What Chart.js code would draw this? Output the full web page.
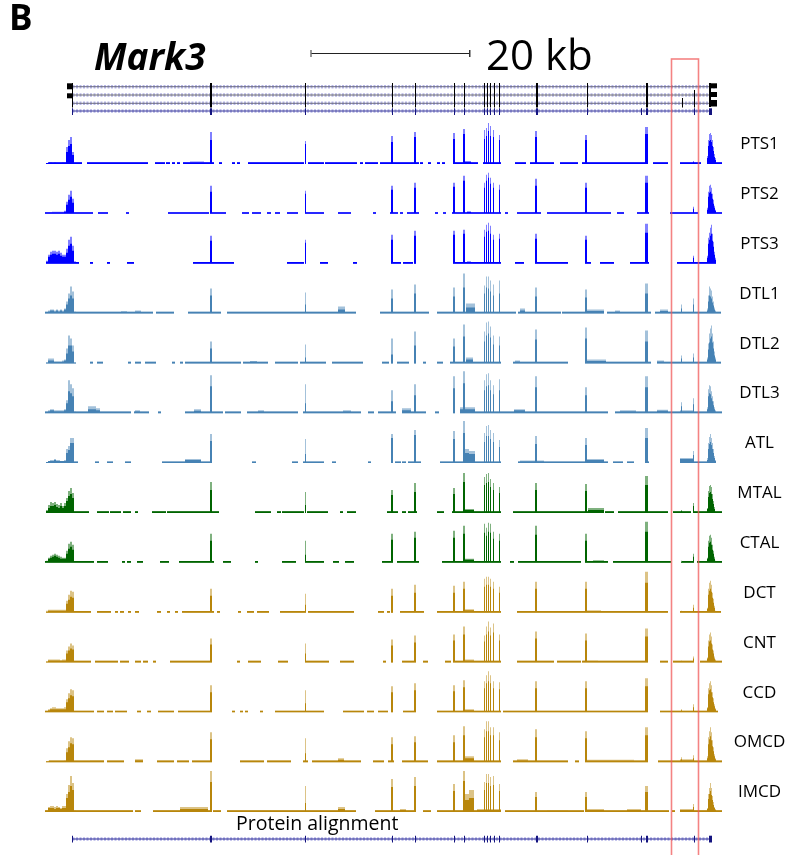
<!DOCTYPE html>
<html><head><meta charset="utf-8">
<script src="https://cdn.jsdelivr.net/npm/chart.js@4.4.1/dist/chart.umd.min.js"></script>
<style>
html,body{margin:0;padding:0;background:#fff;}
#wrap{position:relative;width:791px;height:855px;overflow:hidden;font-family:"Open Sans",sans-serif;background:#fff;}
canvas{position:absolute;left:0;top:0;}
.lbl{position:absolute;line-height:1;white-space:nowrap;color:#000;}
.trk{position:absolute;line-height:1;white-space:nowrap;color:#000;font-size:17px;transform:translateX(-50%);}
</style></head><body>
<div id="wrap"><canvas id="c" width="791" height="855"></canvas>
<div class="lbl" style="left:9px;top:-1px;font-size:35px;font-weight:700;">B</div>
<div class="lbl" style="left:94px;top:37px;font-size:37px;font-weight:700;font-style:italic;">Mark3</div>
<div class="lbl" style="left:486px;top:33px;font-size:42px;">20 kb</div>
<div class="lbl" style="left:236px;top:813px;font-size:19.5px;">Protein alignment</div>
</div>
<script>
// ---------------- DATA (genomic bins, ~126 bp per bin) ----------------
const trackNames = ['PTS1','PTS2','PTS3','DTL1','DTL2','DTL3','ATL','MTAL','CTAL','DCT','CNT','CCD','OMCD','IMCD'];
const trackGroup = ['PTS','PTS','PTS','TL','TL','TL','TL','TAL','TAL','DIST','DIST','DIST','DIST','DIST'];

// internal exon peaks (bin, width in bins)
const exonBins  = [210,305,391,414,453,463,484,486,488,490,493,499,535,585,645,681,693];
const exonWidth = [2,1,2,2,2,2,1,1,1,1,1,1,2,2,3,1,1];

// coverage (max) at exon peaks, per track
const exonMax = [
 [32,23,28,32,31,35, 34,36,41,38,34,29, 33,29,37,0,3],
 [28,23,28,31,31,38, 31,39,41,36,31,29, 35,31,38,0,7],
 [28,24,29,33,33,34, 34,39,41,38,29,30, 30,28,40,0,8],
 [25,21,24,29,26,40, 28,37,37,33,29,33, 26,24,30,9,15],
 [22,19,25,32,25,39, 32,41,42,37,28,27, 34,36,33,8,10],
 [38,29,23,29,37,42, 33,39,40,33,28,34, 37,26,37,11,15],
 [29,24,29,33,32,42, 30,37,38,33,30,23, 27,25,35,5,12],
 [31,21,23,30,25,40, 36,39,40,34,30,26, 30,29,37,3,10],
 [29,22,29,31,32,37, 39,35,40,39,31,29, 37,29,41,2,9],
 [24,19,24,28,27,31, 34,36,36,34,31,26, 31,31,41,2,8],
 [24,19,23,27,28,36, 27,36,41,35,39,28, 31,29,34,2,6],
 [27,22,26,29,27,32, 31,37,41,37,31,30, 31,31,34,3,8],
 [30,24,25,26,27,36, 33,41,41,35,35,30, 33,31,35,5,7],
 [41,26,33,35,28,41, 30,38,38,35,36,28, 20,20,26,3,8]
];
// coverage (mean) at exon peaks, per track
const exonMean = [
 [24,20,22,27,25,30, 25,28,33,28,27,24, 27,24,30,0,2],
 [22,20,24,26,27,33, 26,33,36,30,26,24, 28,26,31,0,5],
 [23,21,24,28,29,30, 27,32,33,30,24,25, 25,24,31,0,6],
 [18,9,15,20,17,26, 20,26,25,22,18,20, 17,16,20,5,9],
 [15,6,9,18,17,27, 22,28,30,26,19,18, 24,25,22,5,6],
 [27,10,12,18,25,30, 23,27,28,23,19,23, 26,18,26,7,9],
 [22,9,25,28,24,30, 21,27,27,24,21,16, 19,18,25,3,8],
 [23,8,18,21,19,31, 28,30,31,26,23,20, 23,22,28,2,7],
 [22,8,23,25,25,29, 30,27,31,30,24,22, 28,22,31,1,6],
 [17,8,17,20,20,24, 26,28,28,26,24,20, 24,24,30,1,5],
 [18,9,17,20,22,28, 21,28,31,27,30,22, 24,22,26,1,4],
 [20,9,20,22,21,25, 24,29,31,29,24,23, 24,24,26,2,5],
 [23,9,18,20,20,27, 25,31,31,27,27,22, 25,24,27,3,4],
 [30,9,25,26,21,31, 22,29,29,26,27,21, 15,15,20,2,5]
];

// first exon / 5' region, 2-bin steps
const firstBins = [46,48,50,52,54,56,58,60,62,64,66,68,70,72,74];
const firstMax = [
 [1,2,2,1.5,2,1.5,1.5,1.5,2,2,17,24,27,12,1],
 [0.5,1,1.5,2,2,2,2,2,2,3,12,19,23,15,1],
 [3,9,12,13,13,12,13,11,9,9,15,24,27,18,2],
 [1,3,4,4,3,4,3,4,3,5,12,20,27,22,2],
 [1,5,5,5,2,2,2,2,3,4,15,28,25,18,1],
 [1,3,4,4,3,3,3,3,3,4,13,33,29,25,2],
 [1,2,3,3,4,3,3,2,2,3,14,17,25,25,1],
 [3,8,11,10,11,9,8,10,7,10,15,22,25,20,1],
 [2,5,7,8,9,8,7,6,5,5,12,19,21,18,1],
 [2,3,3,3,3,3,3,3,3,3,12,18,22,21,1],
 [1,3,3,3,3,3,3,2,3,3,12,16,19,17,1],
 [1,3,4,5,5,4,4,4,4,5,13,19,23,22,1],
 [1,1.5,1.5,1.5,1.5,1.5,1.5,1.5,1.5,2,14,21,25,24,1],
 [2,5,6,6,5,6,5,4,6,6,18,27,36,29,2]
];
const firstMean = [
 [1,1.5,1.5,1,1.5,1,1,1,1.5,1.5,12,18,20,9,1],
 [0.5,1,1,1.5,1.5,1.5,1.5,1.5,1.5,2,9,14,17,11,1],
 [2,7,9,10,10,9,10,8,7,7,11,18,20,13,2],
 [1,2,3,3,2,3,2,3,2,4,9,15,18,15,1],
 [1,3,3,3,1,1,1,1,2,3,10,18,18,12,1],
 [1,2,3,3,2,2,2,2,2,3,10,22,20,17,1],
 [1,2,2,2,3,2,2,2,2,2,10,13,20,20,1],
 [2,5,7,7,8,6,5,7,5,7,12,17,19,15,1],
 [1,4,5,6,7,6,5,4,4,4,9,14,16,13,1],
 [1,2,2,2,2,2,2,2,2,2,9,13,16,15,1],
 [1,2,2,2,2,2,2,2,2,2,9,12,14,13,1],
 [1,2,3,3,3,3,3,3,3,3,10,14,17,16,1],
 [1,1,1,1,1,1,1,1,1,1.5,10,15,19,18,1],
 [1,4,4,4,3,4,4,3,4,4,14,20,26,22,1]
];

// last exon / 3' region, 1-bin steps
const lastBins = [707,708,709,710,711,712,713,714,715];
const lastMax = [
 [8,24,30,31,29,24,17,10,6],
 [6,22,28,29,26,20,14,8,4],
 [8,26,31,36,39,30,22,12,6],
 [5,18,27,25,23,17,12,6,3],
 [6,20,30,35,38,30,22,12,6],
 [6,24,28,27,22,17,12,6,3],
 [5,20,26,29,25,20,14,7,3],
 [5,22,27,28,26,19,12,6,2],
 [5,22,27,28,25,18,12,6,2],
 [5,24,30,32,28,20,14,7,2],
 [5,22,28,30,26,18,12,6,3],
 [5,24,29,31,27,20,14,8,4],
 [6,25,31,35,30,22,15,8,4],
 [4,18,24,29,24,16,10,5,3]
];
const lastMean = [
 [6,18,23,24,22,18,13,7,4],
 [4,17,21,22,20,15,10,6,3],
 [6,20,24,28,30,23,17,9,4],
 [3,12,18,17,15,11,8,4,2],
 [4,14,21,25,27,21,15,8,4],
 [4,17,20,19,15,12,8,4,2],
 [3,14,19,21,18,14,10,5,2],
 [4,16,20,21,19,14,9,4,1],
 [4,16,20,21,18,13,9,4,1],
 [4,18,22,24,21,15,10,5,1],
 [4,16,21,22,19,13,9,4,2],
 [4,18,22,23,20,15,10,6,3],
 [4,18,23,26,22,16,11,6,3],
 [3,13,18,21,17,12,7,4,2]
];

// low (baseline-level) coverage stretches [startBin, endBin]
const lowCov = [
 [[49,81],[87,147],[155,164],[166,169],[172,174],[177,179],[183,213],[219,221],[232,234],[237,239],[248,303],[308,323],[325,337],[338,356],[360,362],[365,377],[380,390],[393,418],[420,422],[428,430],[437,439],[442,444],[453,477],[483,500],[515,525],[530,553],[560,577],[582,647],[653,667],[680,700],[707,721]],
 [[45,92],[98,107],[126,128],[168,208],[210,225],[242,248],[252,260],[267,270],[275,279],[287,297],[305,323],[338,350],[373,375],[390,397],[400,402],[407,418],[435,437],[443,445],[452,500],[505,507],[517,540],[547,610],[617,623],[637,648],[670,697],[707,721]],
 [[49,78],[90,92],[107,109],[127,133],[193,233],[287,303],[320,327],[353,356],[392,400],[403,412],[453,500],[515,523],[537,567],[585,590],[600,613],[630,648],[677,715]],
 [[45,152],[156,173],[188,220],[227,355],[380,428],[437,515],[518,560],[562,600],[607,650],[655,720]],
 [[49,67],[90,92],[97,102],[128,130],[135,140],[145,155],[172,174],[180,182],[185,240],[243,267],[275,297],[300,325],[332,362],[382,388],[397,408],[423,425],[437,442],[450,500],[513,567],[585,650],[660,720]],
 [[45,130],[134,148],[158,160],[185,222],[225,240],[247,297],[303,360],[368,373],[378,395],[402,425],[435,438],[460,607],[615,721]],
 [[49,77],[95,98],[107,112],[125,130],[162,210],[252,255],[292,297],[303,323],[332,335],[368,370],[395,400],[402,405],[408,420],[440,500],[518,607],[613,622],[627,633],[645,648],[680,715]],
 [[49,88],[97,108],[110,120],[123,130],[135,137],[152,165],[167,218],[255,270],[277,280],[282,303],[307,327],[340,342],[347,355],[387,397],[402,405],[408,416],[437,443],[452,500],[513,603],[605,613],[618,667],[673,690],[693,721]],
 [[45,93],[97,107],[122,124],[127,130],[137,142],[160,168],[179,213],[223,230],[255,257],[282,295],[305,323],[333,338],[345,353],[382,392],[397,418],[442,500],[510,513],[518,580],[587,607],[613,670],[682,693],[697,721]],
 [[49,90],[97,110],[115,117],[120,123],[128,130],[135,138],[157,160],[167,169],[175,177],[182,213],[217,219],[238,240],[247,253],[257,268],[280,305],[308,353],[378,383],[387,389],[400,423],[437,500],[517,667],[680,720]],
 [[49,90],[95,117],[120,128],[135,140],[143,147],[153,155],[170,210],[237,239],[248,260],[278,287],[305,328],[340,353],[383,385],[402,415],[423,427],[445,450],[453,500],[517,553],[557,580],[582,647],[660,667],[673,693],[700,721]],
 [[45,93],[97,103],[107,112],[115,126],[137,140],[147,150],[158,173],[178,210],[232,234],[240,242],[245,247],[260,262],[275,323],[343,363],[367,373],[378,387],[403,415],[437,500],[503,647],[660,667],[668,717]],
 [[49,103],[107,123],[135,142],[157,173],[177,188],[192,210],[240,263],[267,290],[303,307],[312,360],[373,383],[388,393],[402,427],[437,500],[513,567],[575,578],[585,647],[658,721]],
 [[45,132],[135,140],[153,210],[213,220],[227,355],[375,390],[393,415],[423,430],[437,500],[505,583],[585,668],[672,674],[680,721]]
];

// small intronic coverage humps [startBin, endBin, max, mean]
const intronBumps = [
 [[190,203,2.5,1.8],[464,470,3,2]],
 [[467,470,2.5,1.8]],
 [[467,470,2.5,1.8]],
 [[121,126,2.5,1.8],[135,140,3,2],[338,344,7,4],[466,474,10,6],[520,524,5,3],[587,603,4,2.5],[615,619,3,2],[660,667,4,2.5]],
 [[250,256,2.5,1.8],[466,472,6,4],[515,519,3,2],[587,605,4,2.5],[657,663,3,2]],
 [[88,95,7,4],[96,99,5,3],[135,139,3,2],[194,200,4,2.5],[258,263,3,2],[343,350,3,2],[402,410,5,3],[460,474,6,4],[514,524,4,3],[620,635,3,2],[657,667,3.5,2.5],[680,693,3,2]],
 [[185,200,4,3],[464,468,14,10],[469,474,12,9],[520,543,2.5,1.8],[587,603,4,3],[680,693,5,4]],
 [[465,473,4,3],[588,603,5,3]],
 [[465,473,4,3],[593,603,2.5,1.8]],
 [[465,473,3.5,2.5],[587,600,2,1.8]],
 [[465,473,3,2],[583,597,2,1.8]],
 [[463,473,3,2]],
 [[90,103,2,1.8],[135,142,3,2],[338,343,4,2.5],[463,473,6,4],[517,527,3,2],[587,633,2.5,1.8],[680,693,3,2]],
 [[180,207,5,3],[338,344,5,3],[400,405,3,2],[463,468,18,12],[469,473,22,14],[477,500,3,2],[547,567,2,1.8],[587,603,3,2],[627,640,3,2],[680,693,3,2]]
];
const baselineCov = 1.7;

// gene model (transcripts) and protein alignment exon ticks
const txThinExons  = [72,305,392,415,454,464,484,487,490,494,499,587];
const txThickExons = [210,536,646];
const navyThinExons = [72,305,392,415,454,464,484,487,490,494,499,587,641,694];
const navyThickExons = [210,536,646];
const transcriptSpan = [[72,716],[72,716],[72,716],[72,710]];
const proteinSpan = [72,711];
const highlight = [671,698];
const scaleBarStart = 311, scaleBarKb = 20, bpPerBin = 126;

// ---------------- BUILD ----------------
const palette = {
  PTS:{dark:'#0000ff', light:'#8080ff'},
  TL:{dark:'#4682b4', light:'#a3c1da'},
  TAL:{dark:'#006400', light:'#7fb17f'},
  DIST:{dark:'#b8860b', light:'#dcc386'}
};

function buildTrack(t){
  const mx = new Map(), mn = new Map();
  const put = (b,a,m) => {
    if (!(mx.get(b) >= a)) mx.set(b,a);
    if (!(mn.get(b) >= m)) mn.set(b,m);
  };
  for (const [s,e] of lowCov[t]) for (let b=s;b<=e;b++) put(b,baselineCov,baselineCov);
  for (const [s,e,a,m] of intronBumps[t]) for (let b=s;b<=e;b++) put(b,a,m);
  firstBins.forEach((b0,k)=>{ for (let b=b0;b<b0+2;b++) put(b, firstMax[t][k], firstMean[t][k]); });
  lastBins.forEach((b,k)=> put(b, lastMax[t][k], lastMean[t][k]));
  exonBins.forEach((b0,k)=>{ for (let b=b0;b<b0+exonWidth[k];b++) put(b, exonMax[t][k], exonMean[t][k]); });
  const maxPts = [...mx].filter(d=>d[1]>0).map(([x,y])=>({x,y}));
  const meanPts = [...mn].filter(d=>d[1]>0).map(([x,y])=>({x,y}));
  return {maxPts, meanPts};
}

const datasets = [];
const barCommon = {type:'bar', barThickness:1, grouped:false, inflateAmount:0, borderWidth:0};
trackNames.forEach((name,t)=>{
  const pal = palette[trackGroup[t]];
  const {maxPts, meanPts} = buildTrack(t);
  datasets.push({...barCommon, label:name+' mean', yAxisID:'t'+t, data:meanPts, backgroundColor:pal.dark, order:1});
  datasets.push({...barCommon, label:name+' max', yAxisID:'t'+t, data:maxPts, backgroundColor:pal.light, order:2});
});

// gene model: intron lines (lavender chevron band + centre line)
const rowY = [8.7,17,25.3,33];
const rowColor = ['#6c6c80','#707070','#6c6c80','#3a3a98'];
transcriptSpan.forEach((sp,r)=>{
  const pts = [{x:sp[0],y:rowY[r]},{x:sp[1],y:rowY[r]}];
  datasets.push({type:'line', yAxisID:'yg', data:pts, borderColor:'#b6b6e8', borderWidth:3.5, borderDash:[2,1.5], pointRadius:0, order:6});
  datasets.push({type:'line', yAxisID:'yg', data:pts, borderColor:rowColor[r], borderWidth:1, pointRadius:0, order:5});
});
const fb = (xs, lo, hi, dx) => xs.map(x=>({x:x+(dx||0), y:[lo,hi]}));
datasets.push({...barCommon, yAxisID:'yg', data:fb(txThinExons,5,29.5), backgroundColor:'#000', order:0});
datasets.push({...barCommon, barThickness:2, yAxisID:'yg', data:fb(txThickExons,5,29.5,0.5), backgroundColor:'#000', order:0});
datasets.push({...barCommon, yAxisID:'yg', data:[{x:682,y:[20,29.5]},{x:694,y:[12,29.5]}], backgroundColor:'#000', order:0});
datasets.push({...barCommon, barThickness:5, yAxisID:'yg', data:[{x:69,y:[5.3,11.3]},{x:69,y:[15.3,20.3]}], backgroundColor:'#000', order:0});
datasets.push({...barCommon, barThickness:2, yAxisID:'yg', data:[{x:709.5,y:[5,29]}], backgroundColor:'#000', order:0});
datasets.push({...barCommon, barThickness:6, yAxisID:'yg', data:[{x:713.5,y:[5.3,10.3]},{x:713.5,y:[14,19]},{x:713.5,y:[22,28.5]}], backgroundColor:'#000', order:0});
datasets.push({...barCommon, yAxisID:'yg', data:fb(navyThinExons,30.3,37), backgroundColor:'#14147f', order:0});
datasets.push({...barCommon, barThickness:2, yAxisID:'yg', data:fb(navyThickExons,30.3,37,0.5), backgroundColor:'#14147f', order:0});
datasets.push({...barCommon, barThickness:3, yAxisID:'yg', data:[{x:710,y:[30.3,37]}], backgroundColor:'#14147f', order:0});

// protein alignment
const protPts = [{x:proteinSpan[0],y:23.1},{x:proteinSpan[1],y:23.1}];
datasets.push({type:'line', yAxisID:'yp', data:protPts, borderColor:'#b6b6e8', borderWidth:3.5, borderDash:[2,1.5], pointRadius:0, order:6});
datasets.push({type:'line', yAxisID:'yp', data:protPts, borderColor:'#2a2a96', borderWidth:1, pointRadius:0, order:5});
datasets.push({...barCommon, yAxisID:'yp', data:fb(navyThinExons,19.8,26.6), backgroundColor:'#14147f', order:0});
datasets.push({...barCommon, barThickness:2, yAxisID:'yp', data:fb(navyThickExons,19.8,26.6,0.5), backgroundColor:'#14147f', order:0});
datasets.push({...barCommon, barThickness:3, yAxisID:'yp', data:[{x:710,y:[19.8,26.6]}], backgroundColor:'#14147f', order:0});

const scales = {
  x:{type:'linear', min:41.5, max:721.5, display:false, offset:false, grid:{offset:false}},
  yg:{type:'linear', display:false, stack:'tracks', stackWeight:40, position:'left', weight:100, min:0, max:40, reverse:true},
  yp:{type:'linear', display:false, stack:'tracks', stackWeight:34.1, position:'left', weight:0, min:0, max:34.1, reverse:true}
};
trackNames.forEach((n,t)=>{
  scales['t'+t] = {type:'linear', display:false, stack:'tracks', stackWeight:49.85, position:'left', weight:50-t, min:-3.85, max:46};
});

const overlay = {
  id:'overlay',
  afterDatasetsDraw(chart){
    const {ctx, chartArea} = chart;
    const x = chart.scales.x;
    ctx.save();
    // scale bar
    const y0 = chartArea.top - 24.5;
    const xa = x.getPixelForValue(scaleBarStart) - 0.5;
    const xb = x.getPixelForValue(scaleBarStart + scaleBarKb*1000/bpPerBin) - 0.5;
    ctx.strokeStyle = '#222'; ctx.lineWidth = 1;
    ctx.beginPath(); ctx.moveTo(xa, y0); ctx.lineTo(xb, y0); ctx.stroke();
    ctx.strokeStyle = '#777'; ctx.lineWidth = 1.5;
    ctx.beginPath(); ctx.moveTo(xa, y0-3.5); ctx.lineTo(xa, y0+3.5); ctx.stroke();
    ctx.strokeStyle = '#333';
    ctx.beginPath(); ctx.moveTo(xb, y0-3.5); ctx.lineTo(xb, y0+3.5); ctx.stroke();
    // highlight box
    const hx0 = x.getPixelForValue(highlight[0]);
    const hx1 = x.getPixelForValue(highlight[1]);
    ctx.strokeStyle = 'rgba(240,90,90,0.75)'; ctx.lineWidth = 1.6;
    ctx.strokeRect(hx0, chartArea.top - 19, hx1 - hx0, chart.height + 40);
    ctx.restore();
  }
};

const chart = new Chart(document.getElementById('c'), {
  type:'bar',
  data:{datasets},
  options:{
    responsive:false, animation:false, devicePixelRatio:1,
    layout:{padding:{left:42, right:69, top:78, bottom:5}},
    plugins:{legend:{display:false}, tooltip:{enabled:false}},
    events:[],
    scales
  },
  plugins:[overlay]
});

// track labels
const wrap = document.getElementById('wrap');
trackNames.forEach((n,t)=>{
  const base = chart.scales['t'+t].getPixelForValue(0);
  const d = document.createElement('div');
  d.className = 'trk';
  d.textContent = n;
  d.style.left = '759.5px';
  d.style.top = (base - 14.7 - 15.1) + 'px';
  wrap.appendChild(d);
});
</script>
</body></html>
